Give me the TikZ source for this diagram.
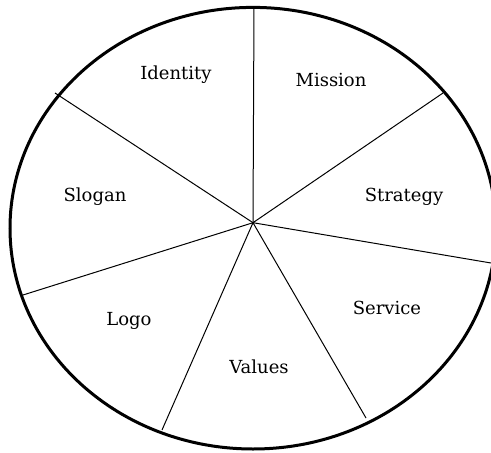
\documentclass[tikz,border=0pt]{standalone}
\usepackage{fontspec}
\setmainfont{DejaVu Serif}
\begin{document}
\begin{tikzpicture}[x=1pt,y=-1pt,
  spoke/.style={draw=black,line width=1pt},
  rim/.style={draw=black,line width=3pt},
  lbl/.style={font=\fontsize{18}{21}\selectfont,inner sep=0pt}]
\useasboundingbox (0,0) rectangle (491,453);
\begin{scope}
\clip (0,0) rectangle (491,453);
\draw[rim] (253,228.2) ellipse [x radius=243, y radius=220.8];
\end{scope}
\coordinate (c) at (253,222.7);
\coordinate (p1) at (254,7);
\coordinate (p2) at (443,93);
\coordinate (p3) at (491,263);
\coordinate (p4) at (366,418);
\coordinate (p5) at (162,430);
\coordinate (p6) at (23,295);
\coordinate (p7) at (55,93);
\foreach \p in {p1,p2,p3,p4,p5,p6,p7} \draw[spoke] (c) -- (\p);
\node[lbl] (identity) at (176,75) {Identity};
\node[lbl] (mission) at (331,80) {Mission};
\node[lbl] (strategy) at (404,197) {Strategy};
\node[lbl] (slogan) at (95,197) {Slogan};
\node[lbl] (logo) at (129,321) {Logo};
\node[lbl] (service) at (387,308) {Service};
\node[lbl] (values) at (259,367) {Values};
\end{tikzpicture}
\end{document}
